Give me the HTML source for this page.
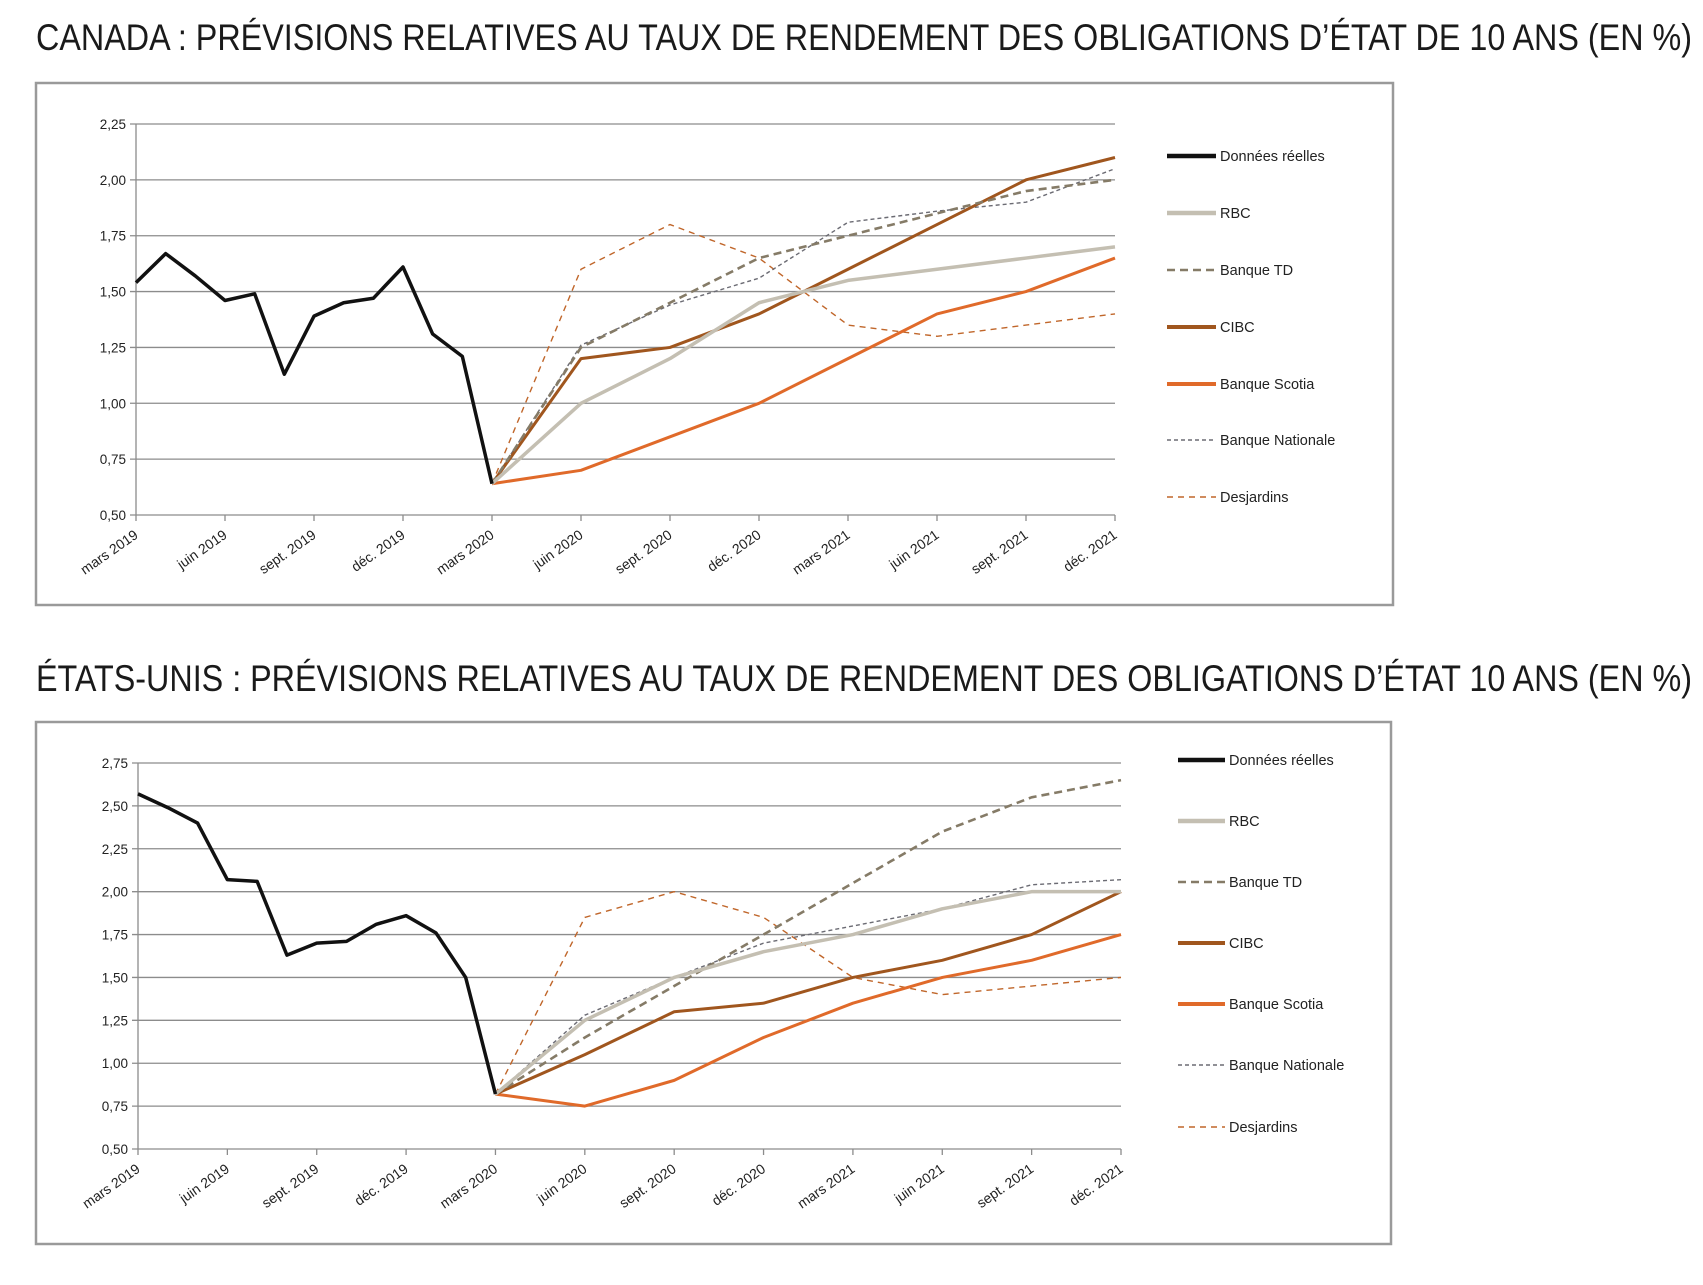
<!DOCTYPE html>
<html><head><meta charset="utf-8"><style>
html,body{margin:0;padding:0;background:#fff;}
svg{display:block;font-family:"Liberation Sans",Arial,sans-serif;}
</style></head><body>
<svg id="svg" width="1703" height="1285" viewBox="0 0 1703 1285" xmlns="http://www.w3.org/2000/svg">
<text x="36" y="50" font-size="37" fill="#1a1a1a" textLength="1656" lengthAdjust="spacingAndGlyphs">CANADA : PRÉVISIONS RELATIVES AU TAUX DE RENDEMENT DES OBLIGATIONS D’ÉTAT DE 10 ANS (EN %)</text>
<text x="36" y="691" font-size="37" fill="#1a1a1a" textLength="1656" lengthAdjust="spacingAndGlyphs">ÉTATS-UNIS : PRÉVISIONS RELATIVES AU TAUX DE RENDEMENT DES OBLIGATIONS D’ÉTAT 10 ANS (EN %)</text>
</svg>
<script>
const xLabels = ["mars 2019","juin 2019","sept. 2019","déc. 2019","mars 2020","juin 2020","sept. 2020","déc. 2020","mars 2021","juin 2021","sept. 2021","déc. 2021"];
const seriesNames = ["Données réelles","RBC","Banque TD","CIBC","Banque Scotia","Banque Nationale","Desjardins"];
// Canada
const caTicks = ["0,50","0,75","1,00","1,25","1,50","1,75","2,00","2,25"];
const caActual = [1.54,1.67,1.57,1.46,1.49,1.13,1.39,1.45,1.47,1.61,1.31,1.21,0.64];
const caRBC = [0.64,1.00,1.20,1.45,1.55,1.60,1.65,1.70];
const caTD = [0.64,1.25,1.45,1.65,1.75,1.85,1.95,2.00];
const caCIBC = [0.64,1.20,1.25,1.40,1.60,1.80,2.00,2.10];
const caScotia = [0.64,0.70,0.85,1.00,1.20,1.40,1.50,1.65];
const caNat = [0.64,1.26,1.44,1.56,1.81,1.86,1.90,2.05];
const caDesj = [0.64,1.60,1.80,1.65,1.35,1.30,1.35,1.40];
// United States
const usTicks = ["0,50","0,75","1,00","1,25","1,50","1,75","2,00","2,25","2,50","2,75"];
const usActual = [2.57,2.49,2.40,2.07,2.06,1.63,1.70,1.71,1.81,1.86,1.76,1.50,0.82];
const usRBC = [0.82,1.25,1.50,1.65,1.75,1.90,2.00,2.00];
const usTD = [0.82,1.15,1.45,1.75,2.05,2.35,2.55,2.65];
const usCIBC = [0.82,1.05,1.30,1.35,1.50,1.60,1.75,2.00];
const usScotia = [0.82,0.75,0.90,1.15,1.35,1.50,1.60,1.75];
const usNat = [0.82,1.28,1.50,1.70,1.80,1.90,2.04,2.07];
const usDesj = [0.82,1.85,2.00,1.85,1.50,1.40,1.45,1.50];

const NS="http://www.w3.org/2000/svg";
const svg=document.getElementById('svg');
const styles=[
 {c:"#111111",w:3.5,d:""},
 {c:"#c4bfb2",w:3.5,d:""},
 {c:"#857b67",w:2.6,d:"8,5"},
 {c:"#a0561e",w:3,d:""},
 {c:"#e06a2a",w:3,d:""},
 {c:"#6b6b73",w:1.4,d:"4,3"},
 {c:"#c0662a",w:1.4,d:"6,5"}
];
function mk(tag,attrs,parent){const e=document.createElementNS(NS,tag);for(const k in attrs)e.setAttribute(k,attrs[k]);(parent||svg).appendChild(e);return e;}

function drawChart(prefix,box,plot,ticks,actual,forecasts,legend){
 const g=mk('g',{});
 
 
 const fr=mk('rect',{x:box.x,y:box.y,width:box.w,height:box.h,fill:'#fff',stroke:'#9a9a9a','stroke-width':2.5},g);
 
 
 const vmin=parseFloat(ticks[0].replace(',','.')),vmax=parseFloat(ticks[ticks.length-1].replace(',','.'));
 const y=v=>plot.b-(v-vmin)/(vmax-vmin)*(plot.b-plot.t);
 const xq=i=>plot.l+i*(plot.r-plot.l)/(xLabels.length-1);
 const xm=m=>plot.l+m*(plot.r-plot.l)/((xLabels.length-1)*3);
 ticks.forEach(t=>{
  const v=parseFloat(t.replace(',','.'));const yy=y(v);
  const gl=mk('line',{x1:plot.l-6,x2:plot.r,y1:yy,y2:yy,stroke:'#8c8c8c','stroke-width':1.3},g);
  
  
  const tl=mk('text',{x:plot.l-10,y:yy+5,'font-size':13.5,'text-anchor':'end',fill:'#222'},g);
  tl.textContent=t;
  
  
 });
 const ax=mk('line',{x1:plot.l,x2:plot.l,y1:plot.t,y2:plot.b,stroke:'#8c8c8c','stroke-width':1.3},g);
 
 
 xLabels.forEach((lab,i)=>{
  const xx=xq(i);
  const tk=mk('line',{x1:xx,x2:xx,y1:plot.b,y2:plot.b+6,stroke:'#8c8c8c','stroke-width':1.3},g);
  
  
  const tl=mk('text',{x:0,y:0,'font-size':14,'text-anchor':'end',fill:'#222',transform:`translate(${xx+3},${plot.b+22}) rotate(-35)`},g);
  tl.textContent=lab;
  
  
 });
 const all=[actual].concat(forecasts);
 for(let s=all.length-1;s>=0;s--){
  const arr=all[s];
  const pts=arr.map((v,i)=>s===0?`${xm(i)},${y(v)}`:`${xq(4+i)},${y(v)}`).join(' ');
  const st=styles[s];
  const pl=mk('polyline',{points:pts,fill:'none',stroke:st.c,'stroke-width':st.w,'stroke-dasharray':st.d,'stroke-linejoin':'round'},g);
  
  
 }
 seriesNames.forEach((n,i)=>{
  const yy=legend.ys[i];const st=styles[i];
  const lg=mk('g',{},g);
  
  
  mk('line',{x1:legend.x1,x2:legend.x2,y1:yy,y2:yy,stroke:st.c,'stroke-width':Math.max(st.w,1.6)+ (i<5&&st.d===""?1:0),'stroke-dasharray':st.d},lg);
  const t=mk('text',{x:legend.x2+4,y:yy+5,'font-size':14.5,fill:'#222'},lg);
  t.textContent=n;
 });
}
drawChart('canada',{x:36,y:83,w:1357,h:522},{l:136,r:1115,t:124,b:515},caTicks,caActual,[caRBC,caTD,caCIBC,caScotia,caNat,caDesj],{x1:1167,x2:1216,ys:[156,213,270,327,384,440,497]});
drawChart('us',{x:36,y:722,w:1355,h:522},{l:138,r:1121,t:763,b:1149},usTicks,usActual,[usRBC,usTD,usCIBC,usScotia,usNat,usDesj],{x1:1178,x2:1225,ys:[760,821,882,943,1004,1065,1127]});
</script>
</body></html>
